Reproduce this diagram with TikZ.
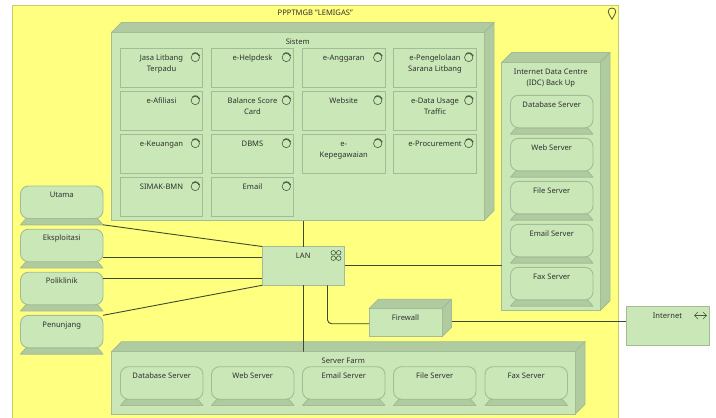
\documentclass[tikz,border=0pt]{standalone}
\usepackage{fontspec}
\setmainfont{Noto Sans}
\definecolor{gfill}{HTML}{C9E7B7}
\definecolor{gside}{HTML}{B1CBA1}
\definecolor{gline}{HTML}{A3BC95}
\definecolor{yfill}{HTML}{FFFF80}
\definecolor{yline}{HTML}{CCCC66}
\definecolor{wire}{HTML}{3F4A2A}
\definecolor{txt}{HTML}{303030}
\definecolor{icon}{HTML}{4A5A42}
\tikzset{
  elem/.style={draw=gline,fill=gfill,line width=0.9pt,inner sep=0pt,outer sep=0pt,anchor=north west,text=txt},
  devbody/.style={elem,rounded corners=8pt},
  facet/.style={draw=gline,fill=gside,line width=0.9pt,line join=round},
  wirelink/.style={draw=wire,line width=0.9pt},
  iconline/.style={draw=icon,line width=0.6pt}
}
% \elembox{name}{x1}{y1}{x2}{y2}{text}
\newcommand{\elembox}[6]{\node[elem] (#1) at (#2,#3) {\parbox[c][\dimexpr #5pt-#3pt\relax][t]{\dimexpr #4pt-#2pt\relax}{\vspace*{4.2pt}\centering\fontsize{7.6}{10.8}\selectfont\strut #6\par}};}
% \solid{name}{x1}{y1}{x2}{y2}{depth}{text}
\newcommand{\solid}[7]{
  \draw[facet] (#2,#3) -- ([shift={(#6,-#6)}]#2,#3) -- ([shift={(#6,-#6)}]#4,#3) -- (#4,#3) -- cycle;
  \draw[facet] (#4,#3) -- ([shift={(#6,-#6)}]#4,#3) -- ([shift={(#6,-#6)}]#4,#5) -- (#4,#5) -- cycle;
  \elembox{#1}{#2}{#3}{#4}{#5}{#7}
}
% \device{name}{x1}{ytop}{text}  width 82.5, body 32.5, base 6.3
\newcommand{\device}[4]{
  \draw[facet] ([shift={(5.5,0)}]#2,#3+32.5) -- ([shift={(77,0)}]#2,#3+32.5) -- ([shift={(82.5,0)}]#2,#3+38.8) -- (#2,#3+38.8) -- cycle;
  \node[devbody] (#1) at (#2,#3) {\parbox[c][32.5pt][t]{82.5pt}{\vspace*{4.2pt}\centering\fontsize{7.6}{10.8}\selectfont\strut #4\par}};
}
\newcommand{\funcicon}[2]{
  \draw[iconline] (#1,#2) circle[radius=4.2pt];
  \draw[iconline,line width=1pt] ([shift={(-2.8,-3.6)}]#1,#2) arc[start angle=130,end angle=20,radius=4.6pt];
}
\begin{document}
\begin{tikzpicture}[x=1pt,y=-1pt]
\useasboundingbox (0,0) rectangle (716,418);
\fill[white] (0,0) rectangle (716,418);
% location frame
\node[elem,draw=yline,fill=yfill] (frame) at (12.5,5.5) {\parbox[c][412.5pt][t]{605.5pt}{\vspace*{2pt}\centering\fontsize{7.6}{10.8}\selectfont\strut PPPTMGB "LEMIGAS"\par}};
\draw[iconline,line width=0.8pt,fill=yfill] (612,19.2) .. controls (610,15.5) and (608.2,13.5) .. (608.2,11.6) .. controls (608.2,9.4) and (609.9,8) .. (612,8) .. controls (614.1,8) and (615.8,9.4) .. (615.8,11.6) .. controls (615.8,13.5) and (614,15.5) .. (612,19.2) -- cycle;
% Sistem
\solid{sistem}{111.5}{32.5}{484}{220.5}{10}{Sistem}
\elembox{a1}{120.5}{48.5}{202.5}{87.5}{Jasa Litbang\\Terpadu}
\elembox{a2}{211.5}{48.5}{293.5}{87.5}{e-Helpdesk}
\elembox{a3}{302.5}{48.5}{385}{87.5}{e-Anggaran}
\elembox{a4}{393.5}{48.5}{476.5}{87.5}{e-Pengelolaan\\Sarana Litbang}
\elembox{b1}{120.5}{91.5}{202.5}{130.5}{e-Afiliasi}
\elembox{b2}{211.5}{91.5}{293.5}{130.5}{Balance Score\\Card}
\elembox{b3}{302.5}{91.5}{385}{130.5}{Website}
\elembox{b4}{393.5}{91.5}{476.5}{130.5}{e-Data Usage\\Traffic}
\elembox{c1}{120.5}{134.5}{202.5}{173.5}{e-Keuangan}
\elembox{c2}{211.5}{134.5}{293.5}{173.5}{DBMS}
\elembox{c3}{302.5}{134.5}{385}{173.5}{e-\\Kepegawaian}
\elembox{c4}{393.5}{134.5}{476.5}{173.5}{e-Procurement}
\elembox{d1}{120.5}{177.5}{202.5}{216.5}{SIMAK-BMN}
\elembox{d2}{211.5}{177.5}{293.5}{216.5}{Email}
\foreach \px/\py in {195.3/57.5,286.3/57.5,377.7/57.5,468.7/57.5,195.3/100.5,286.3/100.5,377.7/100.5,468.7/100.5,195.3/143.5,286.3/143.5,377.7/143.5,468.7/143.5,195.3/186.5,286.3/186.5}{\funcicon{\px}{\py}}
% IDC
\solid{idc}{501.7}{62.5}{600}{310.7}{10}{Internet Data Centre\\(IDC) Back Up}
\device{i1}{510.5}{95.3}{Database Server}
\device{i2}{510.5}{138.3}{Web Server}
\device{i3}{510.5}{181.3}{File Server}
\device{i4}{510.5}{224.3}{Email Server}
\device{i5}{510.5}{267.3}{Fax Server}
% Left devices
\device{utama}{20.5}{186}{Utama}
\device{eks}{20.5}{229.2}{Eksploitasi}
\device{poli}{20.5}{272.2}{Poliklinik}
\device{penu}{20.5}{315.3}{Penunjang}
% Server farm
\solid{farm}{111.5}{351.7}{575}{414.3}{10}{Server Farm}
\device{f1}{120.5}{366.7}{Database Server}
\device{f2}{211.5}{366.7}{Web Server}
\device{f3}{302.5}{366.7}{Email Server}
\device{f4}{393.5}{366.7}{File Server}
\device{f5}{485}{366.7}{Fax Server}
% LAN, firewall, internet
\elembox{lan}{262}{246.5}{344.5}{285.3}{LAN}
\solid{fw}{369}{308.7}{442}{336.7}{9.5}{Firewall}
\elembox{inet}{626}{306.3}{709}{345.3}{Internet}
% icons
\foreach \dx/\dy in {-2.7/-2.7,2.7/-2.7,-2.7/2.7,2.7/2.7}{\draw[iconline] ([shift={(\dx,\dy)}]336,255.5) circle[radius=2.3pt];}
\draw[iconline,line width=0.5pt] (694.5,315.5) -- (706.5,315.5);
\draw[iconline,line width=0.5pt] (698,312) -- (694.5,315.5) -- (698,319);
\draw[iconline,line width=0.5pt] (703,312) -- (706.5,315.5) -- (703,319);
% connectors
\draw[wirelink] (sistem.south -| lan.north) -- (lan.north);
\draw[wirelink] (lan.south) -- (lan.south |- farm.north) -- ++(0,-10);
\draw[wirelink] ([yshift=-6.3pt]utama.south east) -- (lan.north west);
\draw[wirelink] ([yshift=-12.3pt]eks.east) -- ([yshift=-12.3pt]eks.east -| lan.west);
\draw[wirelink] ([yshift=10pt]poli.east) -- ([yshift=10pt]poli.east -| lan.west);
\draw[wirelink] (penu.north east) -- (lan.south west);
\draw[wirelink] (lan.east) -- (lan.east -| idc.west);
\draw[wirelink,rounded corners=4pt] ([xshift=-17pt]lan.south east) |- ([yshift=-1pt]fw.west);
\draw[wirelink] ([yshift=1pt]fw.east) ++(9.5,0) -- ([yshift=1pt]fw.east -| inet.west);
\end{tikzpicture}
\end{document}
